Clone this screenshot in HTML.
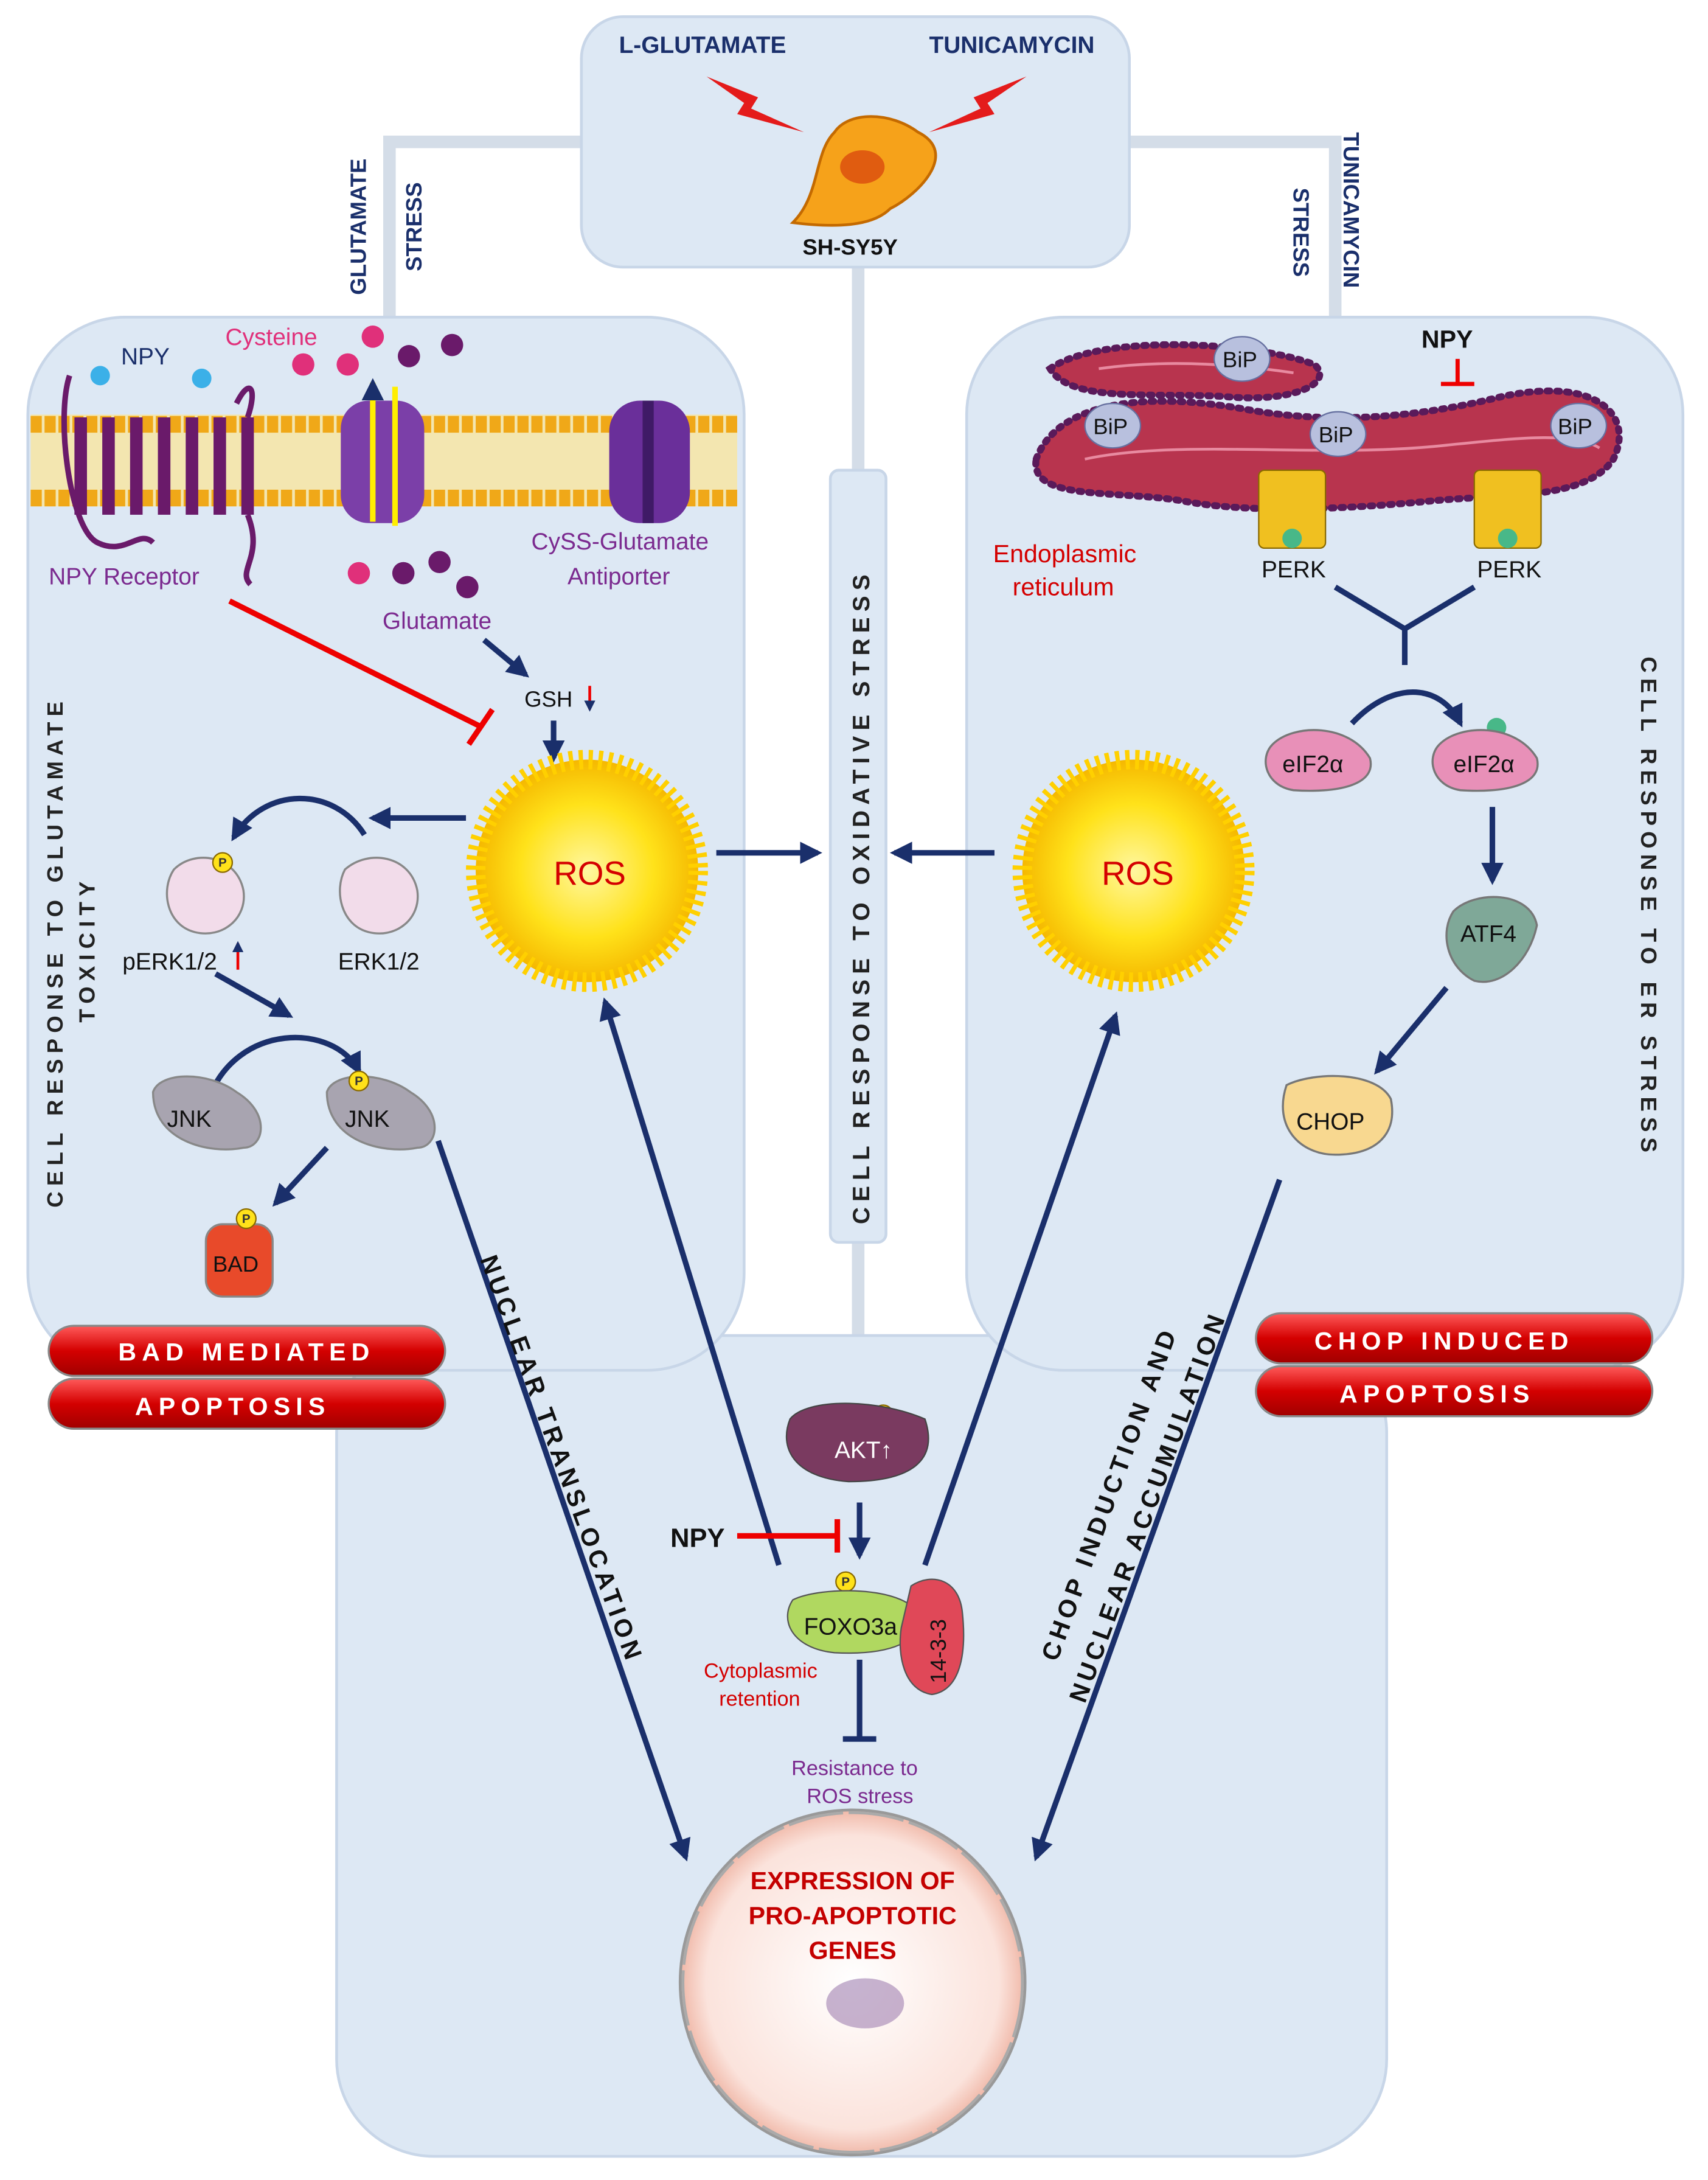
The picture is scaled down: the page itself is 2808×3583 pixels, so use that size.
<!DOCTYPE html>
<html><head><meta charset="utf-8"><style>
html,body{margin:0;padding:0;background:#fff}
svg{display:block}
text{font-family:"Liberation Sans",sans-serif}
</style></head><body>
<svg width="2808" height="3583" viewBox="0 0 1228 1567" xmlns="http://www.w3.org/2000/svg">
<defs>
<radialGradient id="sun" cx="50%" cy="50%" r="50%"><stop offset="0" stop-color="#fff7a0"/><stop offset="0.6" stop-color="#ffe21a"/><stop offset="1" stop-color="#f5b800"/></radialGradient>
<radialGradient id="nuc" cx="50%" cy="50%" r="50%"><stop offset="0" stop-color="#fff"/><stop offset="0.85" stop-color="#fbe3dc"/><stop offset="1" stop-color="#f0b8a8"/></radialGradient>
<linearGradient id="ban" x1="0" y1="0" x2="0" y2="1"><stop offset="0" stop-color="#ff5a5a"/><stop offset="0.5" stop-color="#d40000"/><stop offset="1" stop-color="#a00000"/></linearGradient>
<marker id="ah" viewBox="0 0 10 10" refX="8" refY="5" markerWidth="4" markerHeight="4" orient="auto"><path d="M0,0L10,5L0,10z" fill="#1a2f6b"/></marker>
</defs>
<g stroke="#d4dde8" stroke-width="9" fill="none">
<path d="M420,102 H280 V240"/><path d="M810,102 H960 V240"/>
<path d="M617,190 V1000"/>
</g>
<g fill="#dde8f4" stroke="#c8d6e8" stroke-width="2">
<rect x="242" y="960" width="755" height="590" rx="70"/>
<rect x="20" y="228" width="515" height="757" rx="70"/>
<rect x="695" y="228" width="515" height="757" rx="70"/>
<rect x="418" y="12" width="394" height="180" rx="30"/>
</g>
<rect x="597" y="338" width="40" height="555" rx="6" fill="#dde8f4" stroke="#c8d6e8" stroke-width="2"/>
<text transform="translate(625,880) rotate(-90)" font-size="17" font-weight="bold" letter-spacing="4" fill="#222">CELL RESPONSE TO OXIDATIVE STRESS</text>
<text x="445" y="38" font-size="17" font-weight="bold" fill="#1a2f6b">L-GLUTAMATE</text>
<text x="668" y="38" font-size="17" font-weight="bold" fill="#1a2f6b">TUNICAMYCIN</text>
<path d="M508,55 L545,70 L540,78 L578,95 L530,82 L535,74 Z" fill="#e41b1b"/>
<path d="M738,55 L700,70 L705,78 L668,95 L715,82 L710,74 Z" fill="#e41b1b"/>
<path d="M570,160 C590,140 585,110 600,95 C610,80 640,80 660,95 C690,110 660,140 640,150 C630,160 610,165 570,160Z" fill="#f6a21a" stroke="#c46a00" stroke-width="2"/>
<ellipse cx="620" cy="120" rx="16" ry="12" fill="#e05c10"/>
<text x="577" y="183" font-size="16" font-weight="bold" fill="#111">SH-SY5Y</text>
<text transform="translate(263,212) rotate(-90)" font-size="16" font-weight="bold" fill="#1a2f6b">GLUTAMATE</text>
<text transform="translate(303,195) rotate(-90)" font-size="16" font-weight="bold" fill="#1a2f6b">STRESS</text>
<text transform="translate(930,135) rotate(90)" font-size="16" font-weight="bold" fill="#1a2f6b">STRESS</text>
<text transform="translate(966,95) rotate(90)" font-size="16" font-weight="bold" fill="#1a2f6b">TUNICAMYCIN</text>
<rect x="22" y="298" width="508" height="66" fill="#f3e6b0"/>
<path d="M22,305 H530" stroke="#f0a818" stroke-width="12" stroke-dasharray="8 2"/>
<path d="M22,358 H530" stroke="#f0a818" stroke-width="12" stroke-dasharray="8 2"/>
<g stroke="#6a1a6a" stroke-width="9" fill="none">
<path d="M58,300 V370 M78,300 V370 M98,300 V370 M118,300 V370 M138,300 V370 M158,300 V370 M178,300 V370"/>
<path d="M50,270 C40,300 50,380 70,390 C90,400 100,380 110,390 M178,300 C185,280 180,270 170,290 M178,370 C190,400 170,410 180,420" stroke-width="4"/>
</g>
<rect x="245" y="288" width="60" height="88" rx="20" fill="#7b3fa8"/>
<rect x="438" y="288" width="58" height="88" rx="22" fill="#6a2f9a"/>
<rect x="462" y="288" width="8" height="88" fill="#3f1a66"/>
<path d="M268,375 V275" stroke="#ffee00" stroke-width="4" marker-end="url(#ah)"/>
<path d="M284,278 V378" stroke="#ffee00" stroke-width="4"/>
<g fill="#3bb0e8"><circle cx="72" cy="270" r="7"/><circle cx="145" cy="272" r="7"/></g>
<g fill="#e0307a"><circle cx="218" cy="262" r="8"/><circle cx="250" cy="262" r="8"/><circle cx="268" cy="242" r="8"/><circle cx="258" cy="412" r="8"/></g>
<g fill="#6a1a6a"><circle cx="294" cy="256" r="8"/><circle cx="325" cy="248" r="8"/><circle cx="290" cy="412" r="8"/><circle cx="316" cy="404" r="8"/><circle cx="336" cy="422" r="8"/></g>
<text x="87" y="262" font-size="17" fill="#1a2f6b">NPY</text>
<text x="162" y="248" font-size="17" fill="#e0307a">Cysteine</text>
<text x="35" y="420" font-size="17" fill="#7b2a8f">NPY Receptor</text>
<text x="382" y="395" font-size="17" fill="#7b2a8f">CySS-Glutamate</text>
<text x="408" y="420" font-size="17" fill="#7b2a8f">Antiporter</text>
<text x="275" y="452" font-size="17" fill="#7b2a8f">Glutamate</text>
<text x="377" y="508" font-size="16" fill="#111">GSH</text>
<path d="M424,493 V510" stroke="#e00" stroke-width="2" marker-end="url(#ah)"/>
<g stroke="#1a2f6b" stroke-width="4" fill="none" marker-end="url(#ah)">
<path d="M348,460 L378,485"/><path d="M398,518 V545"/>
<path d="M335,588 H268"/>
<path d="M262,600 C240,565 190,565 168,602"/>
<path d="M155,700 L208,730"/>
<path d="M150,790 C170,735 240,735 258,770"/>
<path d="M235,825 L198,865"/>
<path d="M515,613 H588"/><path d="M715,613 H643"/>
<path d="M315,820 L493,1335"/>
<path d="M560,1125 L435,720"/>
<path d="M665,1125 L802,730"/>
<path d="M920,848 L745,1335"/>
<path d="M618,1080 V1118"/>
<path d="M1040,710 L990,770"/>
<path d="M1073,580 V633"/>
<path d="M972,520 C1000,490 1035,490 1050,520"/>
</g>
<path d="M165,432 L345,522" stroke="#e00" stroke-width="4"/><path d="M337,535 L354,510" stroke="#e00" stroke-width="4"/>
<g stroke="#888" stroke-width="1.5">
<path d="M125,625 C140,610 170,615 175,640 C178,660 160,675 140,670 C120,665 115,640 125,625Z" fill="#f2dcea"/>
<path d="M248,625 C265,610 295,615 300,640 C303,660 285,675 265,670 C245,665 240,640 248,625Z" fill="#f2dcea"/>
<path d="M110,785 C115,770 150,770 170,785 C195,800 190,825 175,825 C150,830 110,820 110,785Z" fill="#a8a4b0"/>
<path d="M235,785 C240,770 275,770 295,785 C320,800 315,825 300,825 C275,830 235,820 235,785Z" fill="#a8a4b0"/>
<rect x="148" y="880" width="48" height="52" rx="12" fill="#e84a2a"/>
</g>
<g fill="#ffe21a" stroke="#8a6a00" stroke-width="1"><circle cx="160" cy="620" r="7"/><circle cx="258" cy="777" r="7"/><circle cx="177" cy="876" r="7"/><circle cx="635" cy="1017" r="7"/><circle cx="608" cy="1137" r="7"/></g>
<g font-size="9" font-weight="bold" fill="#333"><text x="157" y="623">P</text><text x="255" y="780">P</text><text x="174" y="879">P</text><text x="632" y="1020">P</text><text x="605" y="1140">P</text></g>
<text x="88" y="697" font-size="17" fill="#111">pERK1/2</text>
<path d="M171,697 V678" stroke="#e00" stroke-width="2" marker-end="url(#ah)"/>
<text x="243" y="697" font-size="17" fill="#111">ERK1/2</text>
<text x="120" y="810" font-size="17" fill="#111">JNK</text>
<text x="248" y="810" font-size="17" fill="#111">JNK</text>
<text x="153" y="914" font-size="16" fill="#111">BAD</text>
<text transform="translate(45,868) rotate(-90)" font-size="16" font-weight="bold" letter-spacing="4" fill="#222">CELL RESPONSE TO GLUTAMATE</text>
<text transform="translate(68,735) rotate(-90)" font-size="16" font-weight="bold" letter-spacing="4" fill="#222">TOXICITY</text>
<g fill="url(#sun)">
<circle cx="422" cy="626" r="80" stroke="#ffd000" stroke-width="14" stroke-dasharray="3 4"/>
<circle cx="815" cy="626" r="80" stroke="#ffd000" stroke-width="14" stroke-dasharray="3 4"/>
</g>
<text x="398" y="636" font-size="24" fill="#d40000">ROS</text>
<text x="792" y="636" font-size="24" fill="#d40000">ROS</text>
<g fill="#b8344e" stroke="#5a1a5a" stroke-width="5" stroke-dasharray="2 5" stroke-linecap="round">
<path d="M755,265 C790,240 900,245 945,262 C960,275 930,290 880,285 C830,282 770,290 755,265Z"/>
<path d="M745,330 C760,290 820,280 900,295 C960,305 1020,300 1080,285 C1150,270 1175,300 1160,330 C1140,360 1080,355 1030,360 C980,365 900,370 850,360 C800,352 740,360 745,330Z"/>
</g>
<g fill="none" stroke="#e88aa0" stroke-width="2"><path d="M790,265 C840,258 890,262 930,268"/><path d="M780,330 C850,315 950,330 1040,320 C1090,315 1130,310 1150,322"/></g>
<g fill="#b8c0de" stroke="#6670a0"><ellipse cx="893" cy="258" rx="20" ry="16"/><ellipse cx="800" cy="306" rx="20" ry="16"/><ellipse cx="962" cy="312" rx="20" ry="16"/><ellipse cx="1135" cy="306" rx="20" ry="16"/></g>
<g font-size="16" fill="#111"><text x="879" y="264">BiP</text><text x="786" y="312">BiP</text><text x="948" y="318">BiP</text><text x="1120" y="312">BiP</text></g>
<g fill="#f0c020" stroke="#8a6a00"><rect x="905" y="338" width="48" height="56" rx="4"/><rect x="1060" y="338" width="48" height="56" rx="4"/></g>
<g fill="#48b888"><circle cx="929" cy="387" r="7"/><circle cx="1084" cy="387" r="7"/><circle cx="1076" cy="523" r="7"/></g>
<text x="907" y="415" font-size="17" fill="#111">PERK</text>
<text x="1062" y="415" font-size="17" fill="#111">PERK</text>
<text x="714" y="404" font-size="18" fill="#d40000">Endoplasmic</text>
<text x="728" y="428" font-size="18" fill="#d40000">reticulum</text>
<text x="1022" y="250" font-size="18" font-weight="bold" fill="#111">NPY</text>
<path d="M1048,258 V275 M1036,276 H1060" stroke="#e00" stroke-width="3"/>
<path d="M960,422 L1010,452 L1060,422 M1010,452 V478" stroke="#1a2f6b" stroke-width="4" fill="none"/>
<g stroke="#777" stroke-width="1.5">
<path d="M915,535 C930,520 970,520 985,545 C990,565 960,570 930,568 C910,565 905,545 915,535Z" fill="#e890b8"/>
<path d="M1035,535 C1050,520 1090,520 1105,545 C1110,565 1080,570 1050,568 C1030,565 1025,545 1035,535Z" fill="#e890b8"/>
<path d="M1045,655 C1060,640 1100,640 1105,665 C1100,690 1080,710 1060,705 C1040,695 1035,670 1045,655Z" fill="#7fa898"/>
<path d="M925,780 C945,770 990,770 1000,790 C1005,815 990,830 960,830 C935,830 915,810 925,780Z" fill="#f8d890"/>
</g>
<text x="922" y="555" font-size="17" fill="#111">eIF2α</text>
<text x="1045" y="555" font-size="17" fill="#111">eIF2α</text>
<text x="1050" y="677" font-size="17" fill="#111">ATF4</text>
<text x="932" y="812" font-size="17" fill="#111">CHOP</text>
<text transform="translate(1180,472) rotate(90)" font-size="16" font-weight="bold" letter-spacing="4" fill="#222">CELL RESPONSE TO ER STRESS</text>
<g fill="url(#ban)" stroke="#888" stroke-width="1.5">
<rect x="35" y="953" width="285" height="36" rx="18"/><rect x="35" y="991" width="285" height="36" rx="18"/>
<rect x="903" y="944" width="285" height="36" rx="18"/><rect x="903" y="982" width="285" height="36" rx="18"/>
</g>
<g font-size="18" font-weight="bold" fill="#fff" letter-spacing="4">
<text x="85" y="978">BAD MEDIATED</text><text x="97" y="1017">APOPTOSIS</text>
<text x="945" y="970">CHOP INDUCED</text><text x="963" y="1008">APOPTOSIS</text>
</g>
<text transform="translate(345,905) rotate(70)" font-size="18" font-weight="bold" letter-spacing="3" fill="#111">NUCLEAR TRANSLOCATION</text>
<text transform="translate(760,1195) rotate(-70)" font-size="18" font-weight="bold" letter-spacing="3" fill="#111">CHOP INDUCTION AND</text>
<text transform="translate(780,1225) rotate(-70)" font-size="18" font-weight="bold" letter-spacing="3" fill="#111">NUCLEAR ACCUMULATION</text>
<path d="M568,1020 C580,1005 630,1005 665,1020 C675,1050 655,1065 610,1065 C570,1062 560,1040 568,1020Z" fill="#7a3a60" stroke="#444"/>
<text x="600" y="1048" font-size="17" fill="#fff">AKT↑</text>
<text x="482" y="1112" font-size="19" font-weight="bold" fill="#111">NPY</text>
<path d="M530,1104 H602 M602,1092 V1116" stroke="#e00" stroke-width="4"/>
<path d="M570,1150 C590,1140 650,1140 660,1160 C665,1180 640,1190 600,1188 C570,1185 560,1165 570,1150Z" fill="#b0d860" stroke="#555"/>
<text x="578" y="1175" font-size="17" fill="#111">FOXO3a</text>
<path d="M655,1140 C670,1130 690,1135 692,1160 C695,1190 690,1215 670,1218 C650,1215 645,1190 648,1170Z" fill="#e04858" stroke="#555"/>
<text transform="translate(680,1210) rotate(-90)" font-size="16" fill="#111">14-3-3</text>
<text x="506" y="1206" font-size="15" fill="#d40000">Cytoplasmic</text>
<text x="517" y="1226" font-size="15" fill="#d40000">retention</text>
<path d="M618,1193 V1250 M606,1250 H630" stroke="#1a2f6b" stroke-width="4"/>
<text x="569" y="1276" font-size="15" fill="#7b2a8f">Resistance to</text>
<text x="580" y="1296" font-size="15" fill="#7b2a8f">ROS stress</text>
<circle cx="613" cy="1425" r="124" fill="url(#nuc)" stroke="#999" stroke-width="2"/>
<circle cx="613" cy="1425" r="122" fill="none" stroke="#aaa" stroke-width="2" stroke-dasharray="40 4"/>
<ellipse cx="622" cy="1440" rx="28" ry="18" fill="#a080b0" opacity="0.6"/>
<g font-size="18" font-weight="bold" fill="#c40000" text-anchor="middle">
<text x="613" y="1358">EXPRESSION OF</text><text x="613" y="1383">PRO-APOPTOTIC</text><text x="613" y="1408">GENES</text></g>
</svg>
</body></html>
